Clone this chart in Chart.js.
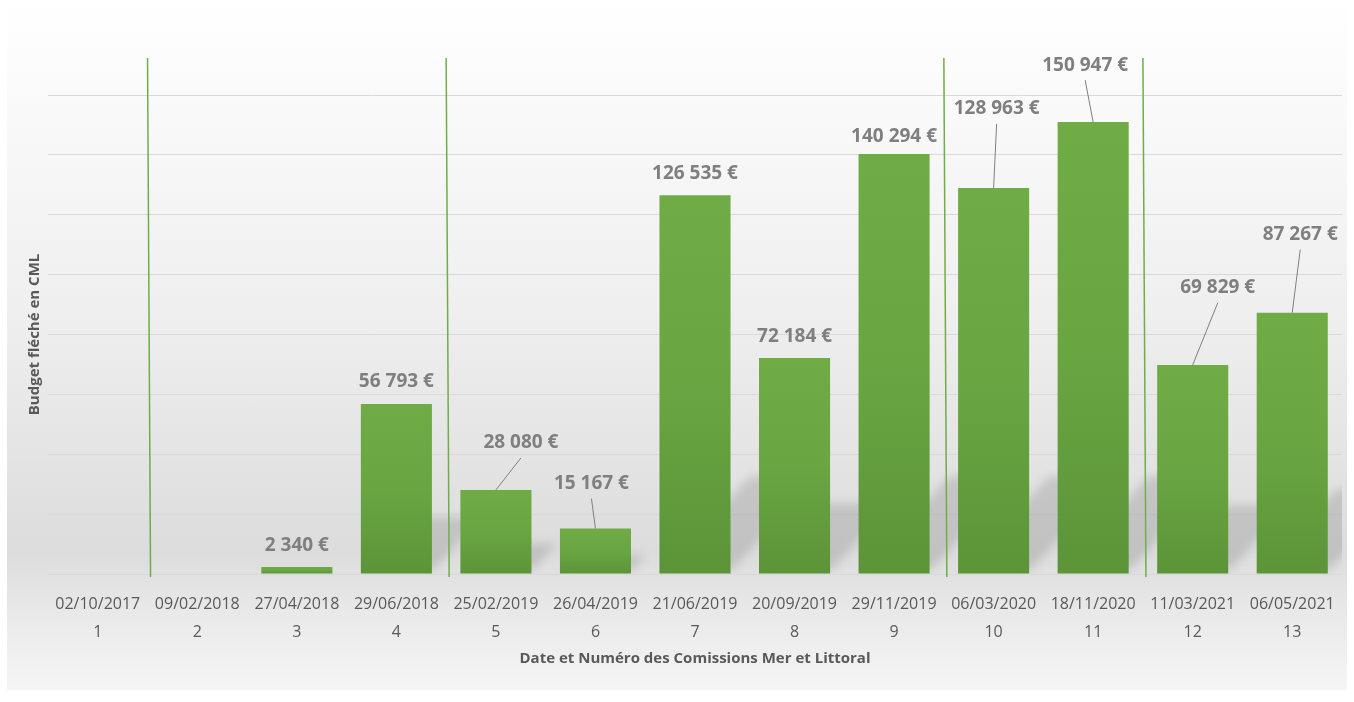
<!DOCTYPE html>
<html lang="fr">
<head>
<meta charset="utf-8">
<title>Budget fléché en CML</title>
<script src="https://cdn.jsdelivr.net/npm/chart.js@4.4.1/dist/chart.umd.min.js"></script>
<style>
  html, body { margin: 0; padding: 0; background: #ffffff; }
  #wrap { position: relative; width: 1354px; height: 702px; }
  #fond {
    position: absolute; left: 7px; top: 0; width: 1340px; height: 690px;
    background: linear-gradient(to bottom, #ffffff 0%, #f8f8f8 20%, #efefef 45%, #e3e3e3 68%, #dcdcdc 80%, #e8e8e8 88%, #f5f5f5 100%);
  }
  #chartBox { position: absolute; left: 0; top: 0; width: 1354px; height: 702px; }
</style>
</head>
<body>
<div id="wrap">
  <div id="fond"></div>
  <div id="chartBox"><canvas id="cmlChart"></canvas></div>
</div>
<script>
// ===============================
// DONNEES
// ===============================
const dates = ["02/10/2017", "09/02/2018", "27/04/2018", "29/06/2018", "25/02/2019", "26/04/2019",
  "21/06/2019", "20/09/2019", "29/11/2019", "06/03/2020", "18/11/2020", "11/03/2021", "06/05/2021"];
const numeros = ["1", "2", "3", "4", "5", "6", "7", "8", "9", "10", "11", "12", "13"];
const budgets = [0, 0, 2340, 56793, 28080, 15167, 126535, 72184, 140294, 128963, 150947, 69829, 87267];
const yTicks = [0, 20000, 40000, 60000, 80000, 100000, 120000, 140000, 160000];

// placement des etiquettes (decalage par rapport au haut de la barre)
const labelOffsets = [null, null, [0, -21], [0, -22], [25, -47], [-4, -45], [0, -22], [0, -21],
  [0, -17], [3, -79], [-8, -57], [25, -77], [8, -78]];

const VERT = "#70ad47";
const GRIS_TEXTE = "#595959";
const GRIS_ETIQ = "#7f7f7f";
const POLICE = "'Open Sans', 'Noto Sans', sans-serif";

function formatEuro(v) {
  return String(v).replace(/\B(?=(\d{3})+(?!\d))/g, " ") + " €";
}

// ===============================
// PLUGINS
// ===============================
// ombres portees des barres
const ombresPlugin = {
  id: "ombres",
  beforeDatasetsDraw(chart) {
    const { ctx, chartArea } = chart;
    const meta = chart.getDatasetMeta(0);
    ctx.save();
    ctx.beginPath();
    ctx.rect(chartArea.left, chartArea.top, chartArea.right - chartArea.left, chartArea.bottom - chartArea.top);
    ctx.clip();
    ctx.filter = "blur(5px)";
    ctx.fillStyle = "rgba(0,0,0,0.12)";
    meta.data.forEach((bar) => {
      const h = bar.base - bar.y;
      if (h < 10) return;
      const w = bar.width;
      const d = Math.min(h * 0.28, 85);
      ctx.beginPath();
      ctx.moveTo(bar.x - w / 2 + 6, bar.base - 4);
      ctx.lineTo(bar.x + w / 2 + 2, bar.base - 4);
      ctx.lineTo(bar.x + w / 2 + 2 + d, bar.base - 4 - d * 1.1);
      ctx.lineTo(bar.x - w / 2 + 6 + d, bar.base - 4 - d * 1.1);
      ctx.closePath();
      ctx.fill();
    });
    ctx.restore();
  }
};

// lignes verticales de changement d'annee
const anneesPlugin = {
  id: "annees",
  afterDatasetsDraw(chart) {
    const { ctx, chartArea } = chart;
    const x = chart.scales.x;
    ctx.save();
    ctx.strokeStyle = VERT;
    ctx.lineWidth = 1.5;
    for (let i = 1; i < dates.length; i++) {
      if (dates[i].slice(-4) !== dates[i - 1].slice(-4)) {
        const px = (x.getPixelForValue(i - 1) + x.getPixelForValue(i)) / 2;
        ctx.beginPath();
        ctx.moveTo(px, chartArea.top - 37);
        ctx.lineTo(px + 3, chartArea.bottom + 3);
        ctx.stroke();
      }
    }
    ctx.restore();
  }
};

// etiquettes de valeurs avec lignes de rappel
const etiquettesPlugin = {
  id: "etiquettes",
  afterDatasetsDraw(chart) {
    const { ctx } = chart;
    const meta = chart.getDatasetMeta(0);
    ctx.save();
    ctx.font = "bold 19px " + POLICE;
    ctx.fillStyle = GRIS_ETIQ;
    ctx.textAlign = "center";
    ctx.textBaseline = "middle";
    meta.data.forEach((bar, i) => {
      const off = labelOffsets[i];
      if (!budgets[i] || !off) return;
      const lx = bar.x + off[0];
      const ly = bar.y + off[1];
      if (off[1] < -30) {
        ctx.strokeStyle = GRIS_ETIQ;
        ctx.lineWidth = 1;
        ctx.beginPath();
        ctx.moveTo(bar.x, bar.y);
        ctx.lineTo(lx, ly + 15);
        ctx.stroke();
      }
      ctx.fillText(formatEuro(budgets[i]), lx, ly);
    });
    ctx.restore();
  }
};

// ===============================
// GRAPHIQUE
// ===============================
const ctx = document.getElementById("cmlChart");

const cmlChart = new Chart(ctx, {
  type: "bar",
  data: {
    labels: dates.map((d, i) => [d, numeros[i]]),
    datasets: [
      {
        label: "Budget fléché en CML",
        data: budgets,
        barPercentage: 0.714,
        categoryPercentage: 1,
        backgroundColor: (c) => {
          const chart = c.chart;
          if (!chart.chartArea || c.raw == null) return VERT;
          const y = chart.scales.y;
          const top = y.getPixelForValue(c.raw);
          const bottom = y.getPixelForValue(0);
          if (bottom - top < 1) return VERT;
          const g = chart.ctx.createLinearGradient(0, top, 0, bottom);
          g.addColorStop(0, "#6fac46");
          g.addColorStop(0.5, "#69a642");
          g.addColorStop(1, "#5c9438");
          return g;
        },
        borderWidth: 0
      }
    ]
  },
  options: {
    responsive: true,
    maintainAspectRatio: false,
    animation: false,
    layout: { padding: { top: 95, left: 20, right: 12, bottom: 34 } },
    plugins: {
      legend: { display: false },
      tooltip: { enabled: false }
    },
    scales: {
      x: {
        grid: { display: false, drawTicks: false },
        border: { display: false },
        ticks: {
          color: GRIS_TEXTE,
          font: { family: POLICE, size: 16, lineHeight: 1.75 },
          padding: 16,
          maxRotation: 0,
          autoSkip: false
        },
        title: {
          display: true,
          text: "Date et Numéro des Comissions Mer et Littoral",
          color: GRIS_TEXTE,
          font: { family: POLICE, size: 15, weight: "bold", lineHeight: 1.2 },
          padding: { top: -12, bottom: 0 }
        }
      },
      y: {
        min: yTicks[0],
        max: yTicks[yTicks.length - 1],
        afterBuildTicks: (scale) => {
          scale.ticks = yTicks.map((v) => ({ value: v }));
        },
        grid: { color: "#d9d9d9", lineWidth: 1, drawTicks: false },
        border: { display: false },
        ticks: { display: false },
        title: {
          display: true,
          text: "Budget fléché en CML",
          color: GRIS_TEXTE,
          font: { family: POLICE, size: 15, weight: "bold", lineHeight: 1.2 },
          padding: { top: 6, bottom: 4 }
        }
      }
    }
  },
  plugins: [ombresPlugin, anneesPlugin, etiquettesPlugin]
});
</script>
</body>
</html>
